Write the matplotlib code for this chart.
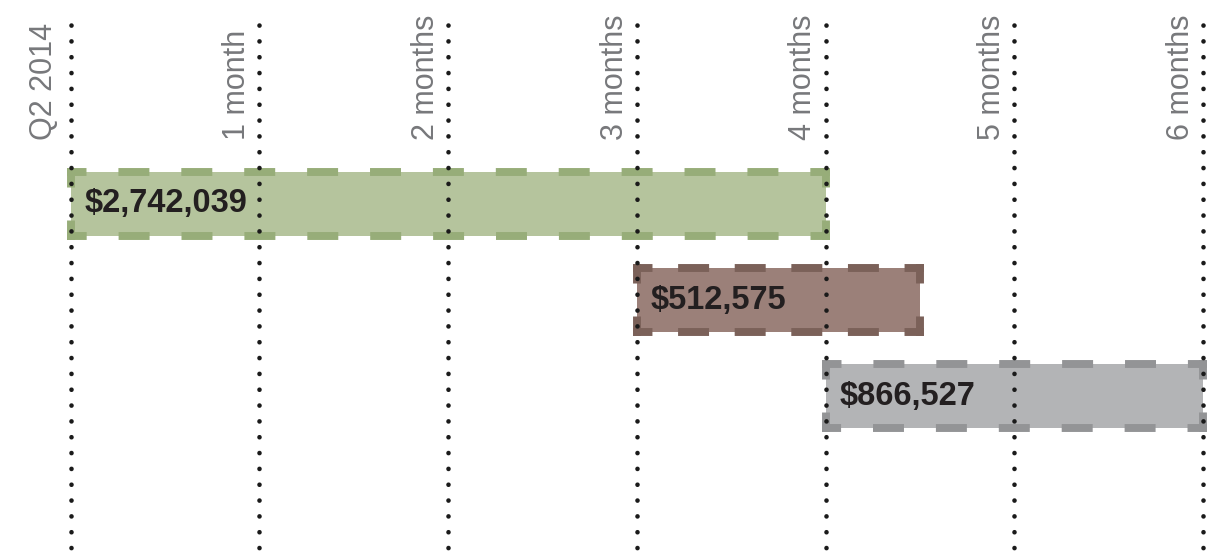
import math
import matplotlib
matplotlib.use("Agg")
import matplotlib.pyplot as plt
import matplotlib.transforms as mtransforms

plt.rcParams["font.family"] = ["Liberation Sans", "DejaVu Sans"]
plt.rcParams["lines.scale_dashes"] = False

# timeline ticks (months from Q2 2014)
tick_months = [0, 1, 2, 3, 4, 5, 6]
tick_labels = ["Q2 2014", "1 month", "2 months", "3 months", "4 months", "5 months", "6 months"]

# bars: start / end in months
bar_starts = [0, 3, 4]
bar_ends = [4, 4.5, 6]
bar_labels = ["$2,742,039", "$512,575", "$866,527"]

fill_colors = ["#b5c49d", "#9b8079", "#b3b4b6"]
edge_colors = ["#97ad79", "#7b6159", "#939496"]

DPI = 100
EDGE_LW = 5.7      # pt
DASH_ON = 16.6     # pt (visible dash gets +lw from projecting caps)
DASH_PERIOD = 44.3 # pt


def dashed_outline(ax, x0, x1, y0, y1, color):
    # draw each side separately so the dashes line up with the corners
    corners = [(x0, y0), (x1, y0), (x1, y1), (x0, y1)]
    for i in range(4):
        a = corners[i]
        b = corners[(i + 1) % 4]
        pa = ax.transData.transform(a)
        pb = ax.transData.transform(b)
        length = math.hypot(pb[0] - pa[0], pb[1] - pa[1]) * 72 / DPI
        n = max(1, round(length / DASH_PERIOD))
        p = length / n
        ax.plot([a[0], b[0]], [a[1], b[1]], color=color, lw=EDGE_LW,
                linestyle=(DASH_ON / 2, (DASH_ON, p - DASH_ON)),
                dash_capstyle="projecting", zorder=2)


def main():
    fig = plt.figure(figsize=(12.25, 5.54), dpi=DPI)
    ax = fig.add_axes([0, 0, 1, 1])
    ax.axis("off")
    ax.set_xlim(-0.3747, 6.117)
    ax.set_ylim(3.64, -2.12)

    rows = list(range(len(bar_starts)))
    height = 0.665
    widths = [e - s for s, e in zip(bar_starts, bar_ends)]
    ax.barh(rows, widths, left=bar_starts, height=height,
            color=fill_colors, edgecolor="none", zorder=1)

    for r, s, e, ec in zip(rows, bar_starts, bar_ends, edge_colors):
        dashed_outline(ax, s, e, r - height / 2, r + height / 2, ec)

    trans = mtransforms.blended_transform_factory(ax.transData, ax.transAxes)
    for m, lab in zip(tick_months, tick_labels):
        ax.plot([m, m], [0.955, 0], transform=trans, color="#1a1a1a", lw=3.3,
                linestyle=(0, (0.1, 11.3)), dash_capstyle="round", zorder=3)
        # first label sits a little further from its line
        off = 0.1 if m == 0 else 0.075
        ax.text(m - off, 0.747, lab, transform=trans, rotation=90,
                rotation_mode="anchor", ha="left", va="baseline",
                fontsize=22, color="#77787b", zorder=4)

    for r, s, lab in zip(rows, bar_starts, bar_labels):
        ax.text(s + 0.075, r, lab, ha="left", va="center", fontsize=23.5,
                fontweight="bold", color="#231f20", zorder=4)

    fig.savefig("out.png", dpi=DPI)
    plt.close(fig)


if __name__ == "__main__":
    main()
